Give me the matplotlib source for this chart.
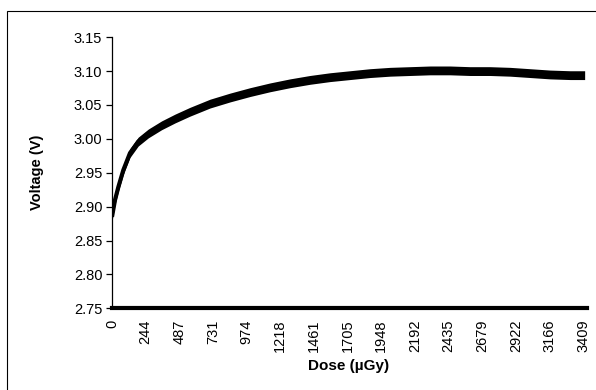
import matplotlib
matplotlib.use("Agg")
import matplotlib.pyplot as plt
from matplotlib.patches import Rectangle
import numpy as np

# Data (dose in µGy, voltage in V)
dose = [0, 22, 46, 82, 130, 190, 263, 359, 456, 564, 709, 854, 999, 1143,
        1288, 1432, 1577, 1722, 1867, 2012, 2156, 2301, 2446, 2590, 2735,
        2880, 3025, 3169, 3314, 3420]
voltage = [2.885, 2.910, 2.929, 2.954, 2.979, 2.996, 3.008, 3.020, 3.030,
           3.040, 3.052, 3.061, 3.069, 3.076, 3.082, 3.087, 3.091, 3.094,
           3.097, 3.099, 3.100, 3.101, 3.101, 3.100, 3.100, 3.099, 3.097,
           3.095, 3.094, 3.094]
x_ticks = [0, 244, 487, 731, 974, 1218, 1461, 1705, 1948, 2192, 2435, 2679,
           2922, 3166, 3409]
y_ticks = [2.75, 2.80, 2.85, 2.90, 2.95, 3.00, 3.05, 3.10, 3.15]

plt.rcParams['font.family'] = ['Liberation Sans', 'DejaVu Sans']

W, H = 596, 390
fig = plt.figure(figsize=(W / 100, H / 100), dpi=100)
fig.patch.set_facecolor('white')

# outer chart border (cropped at right/bottom in reference)
top_b = 1 - 10.5 / H
fig.patches.append(Rectangle((7.5 / W, -0.2), 1.5, top_b + 0.2,
                             transform=fig.transFigure, fill=False,
                             edgecolor='black', linewidth=0.8))

left, right, top, bottom = 112, 587, 37.2, 308.3
ax = fig.add_axes([left / W, 1 - bottom / H, (right - left) / W, (bottom - top) / H])

d = np.array(dose)
v = np.array(voltage)
band = 0.0065
ax.fill_between(d, v - band, v + band, color='black', linewidth=0)
ax.plot(d, v, color='black', linewidth=3.0, solid_capstyle='butt')

ax.set_xlim(0, 3437)
ax.set_ylim(2.75, 3.15)
ax.set_yticks(y_ticks)
ax.set_yticklabels([f"{t:.2f}" for t in y_ticks])
ax.set_xticks(x_ticks)
ax.set_xticklabels([str(t) for t in x_ticks], rotation=90)

for s in ['top', 'right']:
    ax.spines[s].set_visible(False)
ax.spines['left'].set_linewidth(0.9)
ax.spines['bottom'].set_linewidth(3.0)
ax.tick_params(axis='y', direction='out', length=4, width=0.9, pad=3,
               labelsize=10.5)
ax.tick_params(axis='x', length=0, pad=8, labelsize=10.5)

fig.text(37 / W, 1 - 172 / H, 'Voltage (V)', rotation=90, ha='center',
         va='center', fontsize=10.5, fontweight='bold')
fig.text(349 / W, 1 - 366 / H, 'Dose (µGy)', ha='center', va='center',
         fontsize=11, fontweight='bold')

fig.savefig('out.png', dpi=100)
